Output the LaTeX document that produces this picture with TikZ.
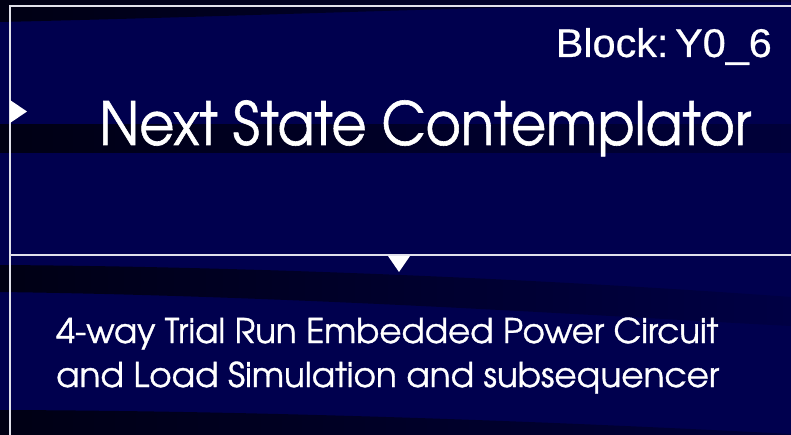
\documentclass[tikz,border=0pt]{standalone}
\usepackage{fontspec}
\usepackage{graphicx}
\setmainfont{Liberation Sans}
\newfontfamily\blockfont[FakeBold=0.6]{Liberation Sans}
\newfontfamily\gothic[Extension=.otf, FakeBold=1.0]{texgyreadventor-regular}
\definecolor{bgblue}{RGB}{0,0,78}
\definecolor{banddark}{RGB}{0,0,20}
\definecolor{bandlight}{RGB}{0,0,58}
\definecolor{bandfade}{RGB}{0,0,68}
\definecolor{linegray}{RGB}{225,225,235}
\tikzset{
  band/.style={left color=banddark, right color=bandlight, draw=none},
  fadeband/.style={left color=banddark, right color=bandfade, draw=none},
  frameline/.style={draw=linegray, line width=1.1pt},
  tri/.style={fill=white, draw=none},
  txt/.style={text=white, inner sep=0pt, anchor=base west}
}
\begin{document}
\begin{tikzpicture}[x=1pt,y=-1pt]
\fill[bgblue] (0,0) rectangle (791,435);
\useasboundingbox (0,0) rectangle (791,435);
% dark bands
\shade[band] (0,0) -- (791,0) -- (791,2) .. controls (500,5) and (300,15) .. (0,22) -- cycle;
\shade[band] (0,125) rectangle (791,153);
\shade[fadeband] (0,265) .. controls (300,267) and (600,283) .. (791,297) -- (791,326) .. controls (600,316) and (300,296) .. (0,292) -- cycle;
\shade[band] (0,410) .. controls (300,411) and (600,424) .. (791,434) -- (791,435) -- (0,435) -- cycle;
% frame
\coordinate (tl) at (10,6);
\coordinate (tr) at (791,6);
\coordinate (bl) at (10,435);
\coordinate (ml) at (10,255);
\coordinate (mr) at (791,255);
\draw[frameline] (tr) -- (tl) -- (bl);
\draw[frameline] (ml) -- (mr);
% triangles
\fill[tri] (10,100) -- (27,111.5) -- (10,123) -- cycle;
\fill[tri] (388,256) -- (410,256) -- (399,272) -- cycle;
% texts
\node[txt, anchor=base east, font=\blockfont\fontsize{40}{44}\selectfont] (block) at (772,57) {\resizebox{216pt}{\height}{Block:\hspace{0.16em}Y0\_6}};
\node[txt, font=\gothic\fontsize{59.5}{66}\selectfont] (title) at (99,145) {\resizebox{652pt}{\height}{Next State Contemplator}};
\node[txt, font=\gothic\fontsize{34}{40}\selectfont] (desc1) at (56,343) {\resizebox{662pt}{\height}{4-way Trial Run Embedded Power Circuit}};
\node[txt, font=\gothic\fontsize{34}{40}\selectfont] (desc2) at (56,387) {\resizebox{663pt}{\height}{and Load Simulation and subsequencer}};
\end{tikzpicture}
\end{document}
